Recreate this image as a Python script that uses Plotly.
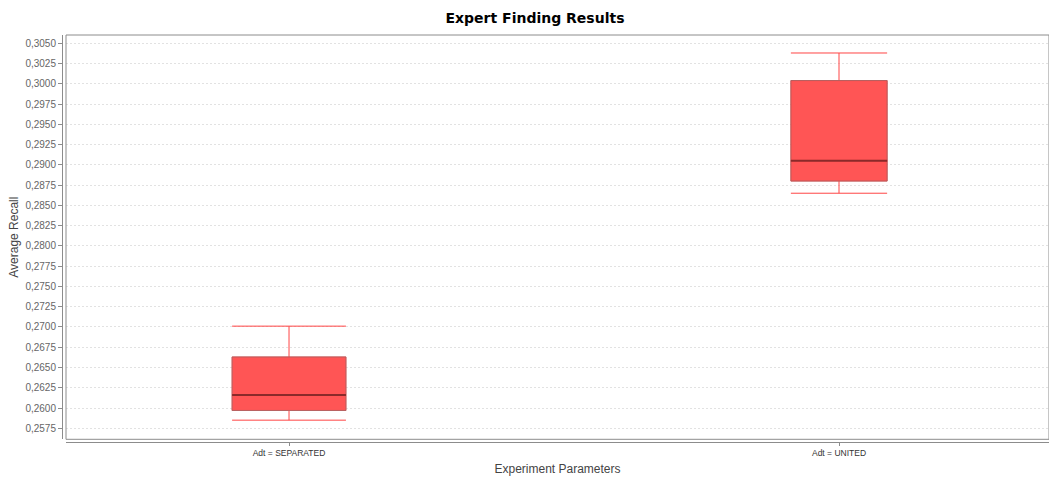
import plotly.graph_objects as go

# Box statistics per experiment setting
categories = ["Adt = SEPARATED", "Adt = UNITED"]
lower_whisker = [0.2585, 0.2865]
q1 = [0.2597, 0.2880]
median = [0.2616, 0.2905]
q3 = [0.2663, 0.3004]
upper_whisker = [0.2701, 0.3038]

positions = [0, 1]
box_widths = [0.207, 0.175]

FILL = "#FF5555"
WHISKER = "#FF4444"
MEDIAN_COLOR = "#8A2A2A"
OUTLINE = "rgba(120,120,120,0.55)"
AXIS_GRAY = "#8C8C8C"

fig = go.Figure()

for i, cat in enumerate(categories):
    fig.add_trace(go.Box(
        x=[positions[i]],
        q1=[q1[i]], median=[median[i]], q3=[q3[i]],
        lowerfence=[lower_whisker[i]], upperfence=[upper_whisker[i]],
        width=box_widths[i],
        whiskerwidth=1,
        fillcolor=FILL,
        line=dict(color=WHISKER, width=1),
        name=cat,
        showlegend=False,
        hoverinfo="skip",
    ))

for i in range(len(categories)):
    half = box_widths[i] / 2
    x0, x1 = positions[i] - half, positions[i] + half
    # box outline
    fig.add_trace(go.Scatter(
        x=[x0, x1, x1, x0, x0],
        y=[q1[i], q1[i], q3[i], q3[i], q1[i]],
        mode="lines", line=dict(color=OUTLINE, width=1),
        showlegend=False, hoverinfo="skip",
    ))
    # median bar
    fig.add_trace(go.Scatter(
        x=[x0, x1], y=[median[i], median[i]],
        mode="lines", line=dict(color=MEDIAN_COLOR, width=2),
        showlegend=False, hoverinfo="skip",
    ))

fig.update_layout(
    width=1049, height=478,
    margin=dict(l=62, r=0, t=35, b=36),
    paper_bgcolor="white", plot_bgcolor="white",
    separators=",.",
    font=dict(family="Liberation Sans, Arial, sans-serif", color="#444444"),
    title=dict(
        text="<b>Expert Finding Results</b>",
        font=dict(family="DejaVu Sans, Verdana, sans-serif", size=14, color="black"),
        x=535 / 1049, xanchor="center", y=1 - 18 / 478, yanchor="middle",
        xref="container", yref="container",
    ),
    xaxis=dict(
        domain=[4 / 987, 1],
        range=[-0.4055, 1.3818],
        anchor="free", position=0,
        tickvals=positions, ticktext=categories,
        tickfont=dict(size=8.5, color="#333333"),
        ticks="outside", ticklen=3, tickcolor=AXIS_GRAY,
        showline=True, linecolor=AXIS_GRAY, linewidth=1,
        showgrid=False, zeroline=False,
        title=dict(text="Experiment Parameters", font=dict(size=12, color="#444444"), standoff=7),
    ),
    yaxis=dict(
        domain=[2.7 / 407, 1],
        range=[0.25614, 0.30602],
        anchor="free", position=0,
        tick0=0.2575, dtick=0.0025, tickformat=".4f",
        tickfont=dict(size=10, color="#666666"),
        ticks="outside", ticklen=4, tickcolor=AXIS_GRAY,
        showline=True, linecolor=AXIS_GRAY, linewidth=1,
        showgrid=True, gridcolor="#E2E2E2", griddash="2px,2px", gridwidth=1,
        zeroline=False,
        title=dict(text="Average Recall", font=dict(size=12, color="#444444"), standoff=3),
    ),
    shapes=[dict(
        type="rect", xref="x domain", yref="y domain",
        x0=0, x1=1, y0=0, y1=1,
        line=dict(color=AXIS_GRAY, width=1), layer="above",
    )],
)

fig.write_html("out.html")
